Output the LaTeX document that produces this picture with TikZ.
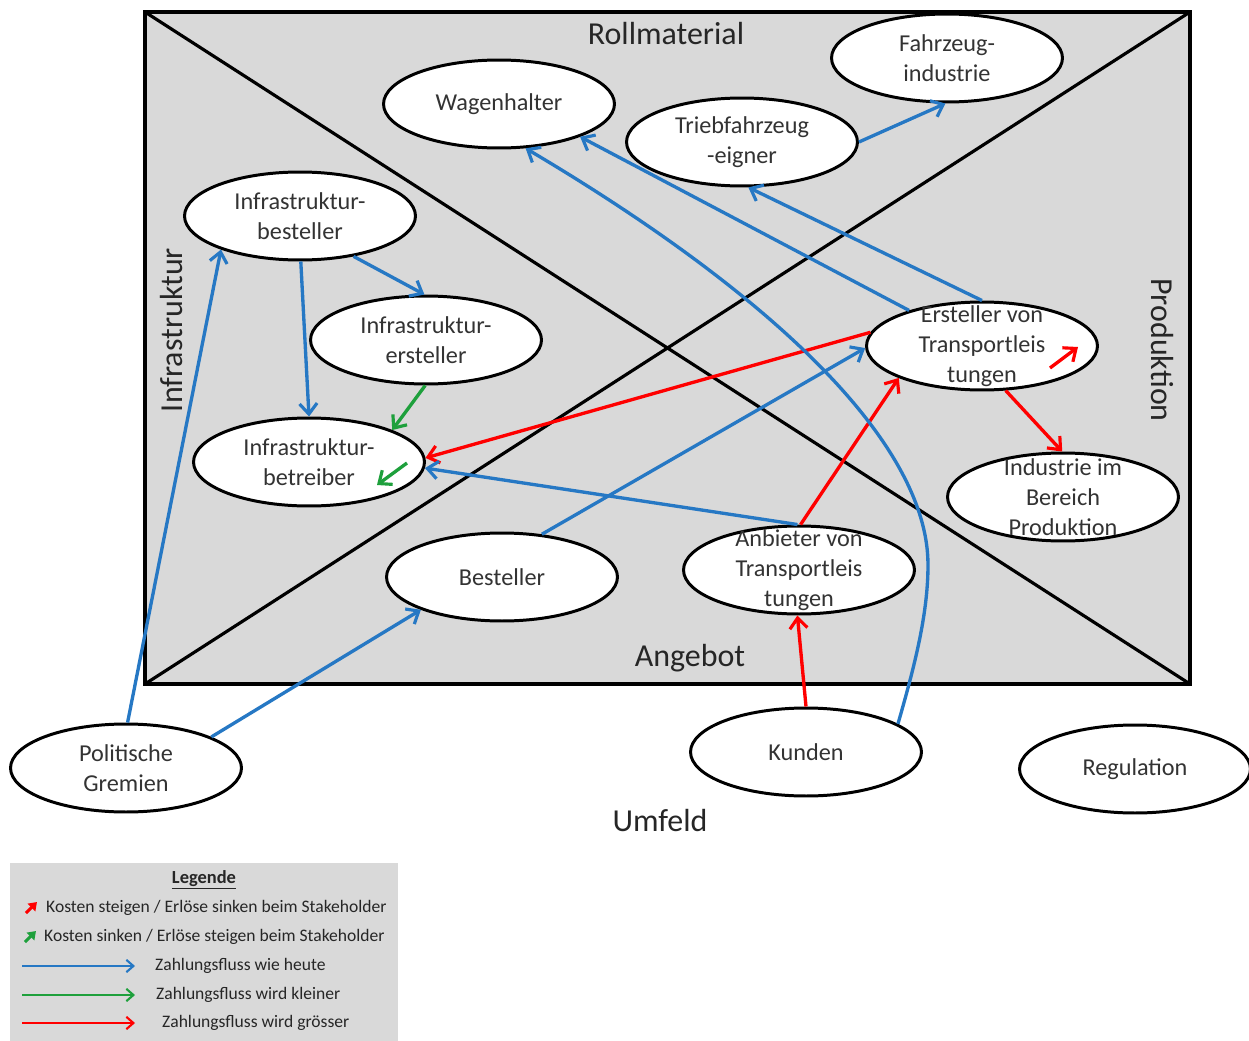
\documentclass[tikz,border=0pt]{standalone}
\usepackage{fontspec}
\setmainfont{Carlito}
\usetikzlibrary{shapes.geometric,arrows.meta,calc}
\definecolor{flowblue}{RGB}{38,120,196}
\definecolor{flowred}{RGB}{255,0,0}
\definecolor{flowgreen}{RGB}{30,160,60}
\definecolor{panel}{RGB}{217,217,217}
\begin{document}
\begin{tikzpicture}[x=0.02cm,y=-0.02cm,
  actor/.style={ellipse,draw=black,line width=1.7pt,fill=white,
    minimum width=4.62cm,minimum height=1.76cm,inner sep=0pt},
  txt/.style={align=center,font=\fontsize{13.8}{17}\selectfont,text=black!80},
  area/.style={font=\fontsize{18.2}{21}\selectfont,text=black!85},
  flow/.style={line width=1.9pt,-{Straight Barb[length=6pt,width=10pt,line width=1.8pt]}},
  blueflow/.style={flow,draw=flowblue},
  redflow/.style={flow,draw=flowred},
  greenflow/.style={flow,draw=flowgreen},
  legflow/.style={line width=1.2pt,-{Straight Barb[length=4pt,width=7pt,line width=1.2pt]}},
  costmark/.style={line width=1.8pt,-{Triangle[length=4.5pt,width=6pt]}},
  legtxt/.style={anchor=west,font=\fontsize{10}{12}\selectfont,text=black!85}]
\useasboundingbox (0,0) rectangle (1249,1041);

% market field with its four sectors
\draw[line width=1.9pt,fill=panel] (145,12) rectangle (1190,684);
\draw[line width=1.8pt] (145,12) -- (1190,684);
\draw[line width=1.8pt] (145,684) -- (1190,12);

\node[area] (rm) at (666,34) {Rollmaterial};
\node[area] (an) at (690,658) {Angebot};
\node[area,rotate=90] (inf) at (172,330) {Infrastruktur};
\node[area,rotate=-90] (pr) at (1162,350) {Produktion};
\node[area] (um) at (660,821) {Umfeld};

% stakeholders
\node[actor,label={[txt]center:Wagenhalter}] (wag) at (499,104) {};
\node[actor,label={[txt]center:Fahrzeug-\\industrie}] (fzi) at (947,58) {};
\node[actor,label={[txt]center:Triebfahrzeug\\-eigner}] (tfe) at (742,142) {};
\node[actor,label={[txt]center:Infrastruktur-\\besteller}] (ibs) at (300,216) {};
\node[actor,label={[txt]center:Infrastruktur-\\ersteller}] (ier) at (426,340) {};
\node[actor,label={[txt]center:Infrastruktur-\\betreiber}] (ibt) at (309,462) {};
\node[actor,label={[txt]center:Ersteller von\\Transportleis\\tungen}] (ers) at (982,346) {};
\node[actor,label={[txt]center:Industrie im\\Bereich\\Produktion}] (ind) at (1063,497) {};
\node[actor,label={[txt]center:Besteller}] (bes) at (502,577) {};
\node[actor,label={[txt]center:Anbieter von\\Transportleis\\tungen}] (anb) at (799,570) {};
\node[actor,label={[txt]center:Politische\\Gremien}] (pol) at (126,768) {};
\node[actor,label={[txt]center:Kunden}] (kun) at (806,752) {};
\node[actor,label={[txt]center:Regulation}] (reg) at (1135,769) {};

% payment flows
\draw[blueflow] (pol.88) -- (ibs.203);
\draw[blueflow] (pol.20) -- (bes.202);
\draw[blueflow] (ibs.271) -- (ibt.90);
\draw[blueflow] (ibs.323) -- (ier.92);
\draw[greenflow] (ier.269) -- (ibt.21);
\draw[redflow] (ers.173) -- (ibt.2);
\draw[blueflow] (anb.92) -- (ibt.-3);
\draw[blueflow] (bes.47) -- (ers.181);
\draw[redflow] (anb.88) -- (ers.201);
\draw[redflow] (ers.298) -- (ind.91);
\draw[blueflow] (ers.90) -- (tfe.278);
\draw[blueflow] (ers.154) -- (wag.338);
\draw[blueflow] (tfe.0) -- (fzi.268);
\draw[blueflow] (kun.17) .. controls (914,668) and (928,615) .. (928,565)
  .. controls (928,440) and (765,290) .. (wag.301);
\draw[redflow] (kun.90) -- (anb.268);

% cost change marks inside the stakeholders
\coordinate (ibtA) at (407,463);
\coordinate (ibtB) at (377,485);
\draw[greenflow] (ibtA) -- (ibtB);
\coordinate (ersA) at (1050,368);
\coordinate (ersB) at (1078,347);
\draw[redflow] (ersA) -- (ersB);

% legend
\fill[panel] (10,863) rectangle (398,1041);
\node[font=\bfseries\fontsize{10.5}{12}\selectfont,text=black!85] (lg) at (204,880) {\underline{Legende}};
\coordinate (r1a) at (26,913); \coordinate (r1b) at (37,902);
\draw[costmark,draw=flowred,fill=flowred] (r1a) -- (r1b);
\node[legtxt] (l1) at (40,908) {Kosten steigen / Erlöse sinken beim Stakeholder};
\coordinate (g1a) at (25,942); \coordinate (g1b) at (36,931);
\draw[costmark,draw=flowgreen,fill=flowgreen] (g1a) -- (g1b);
\node[legtxt] (l2) at (38,937) {Kosten sinken / Erlöse steigen beim Stakeholder};
\coordinate (b1a) at (22,966); \coordinate (b1b) at (135,966);
\draw[legflow,draw=flowblue] (b1a) -- (b1b);
\node[legtxt] (l3) at (149,966) {Zahlungsfluss wie heute};
\coordinate (g2a) at (22,995); \coordinate (g2b) at (135,995);
\draw[legflow,draw=flowgreen] (g2a) -- (g2b);
\node[legtxt] (l4) at (150,995) {Zahlungsfluss wird kleiner};
\coordinate (r2a) at (22,1023); \coordinate (r2b) at (135,1023);
\draw[legflow,draw=flowred] (r2a) -- (r2b);
\node[legtxt] (l5) at (156,1023) {Zahlungsfluss wird grösser};
\end{tikzpicture}
\end{document}
